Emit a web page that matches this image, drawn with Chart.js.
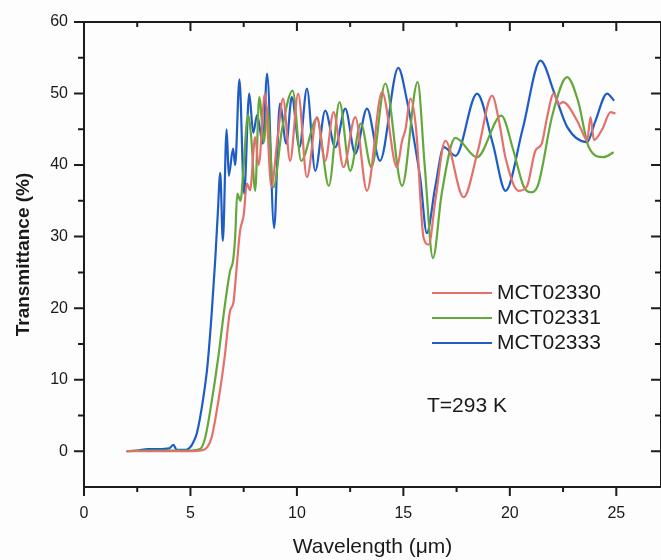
<!DOCTYPE html>
<html>
<head>
<meta charset="utf-8">
<script src="https://cdn.jsdelivr.net/npm/chart.js@4/dist/chart.umd.min.js"></script>
<style>
  html, body { margin: 0; padding: 0; background: #fdfdfd; }
  #wrap { width: 661px; height: 560px; }
</style>
</head>
<body>
<div id="wrap"><canvas id="transChart" width="661" height="560"></canvas></div>
<script>
  // axis ticks
  const xTicks = [0, 5, 10, 15, 20, 25];
  const yTicks = [0, 10, 20, 30, 40, 50, 60];

  // MCT02330 (red)
  const mct02330X = [2, 3, 4, 5, 5.5, 5.8, 6.0, 6.31, 6.6, 6.86, 7.02, 7.15, 7.33, 7.5, 7.65, 7.8, 8.04, 8.2, 8.5, 8.8, 9.1, 9.35, 9.68, 10.06, 10.47, 10.94, 11.33, 11.72, 12.19, 12.74, 13.29, 14.0, 14.7, 14.94, 15.1, 15.33, 15.6, 15.95, 16.19, 16.5, 16.97, 17.83, 18.5, 19.17, 19.5, 19.8, 20.42, 20.8, 21.2, 21.5, 21.75, 22.06, 22.3, 22.5, 23.16, 23.5, 23.63, 23.79, 23.95, 24.34, 24.73, 24.96];
  const mct02330Y = [0, 0, 0, 0, 0.1, 0.6, 2, 7, 13, 19.6, 20.8, 25, 30.8, 33, 37.4, 36.5, 43.9, 40, 50, 37, 44, 49.3, 40.6, 50, 38.3, 46.7, 40.6, 47.4, 39.7, 46.7, 36.4, 50.2, 39.7, 43.4, 45, 49.3, 45, 29.8, 28.9, 35, 43.4, 35.5, 42, 49.7, 46, 41, 36.4, 37, 42, 43, 46.7, 50, 48.5, 48.8, 46.2, 44, 43.4, 46.7, 43.5, 45, 47.4, 47.2];

  // MCT02331 (green)
  const mct02331X = [2, 3, 4, 5, 5.45, 5.7, 6.0, 6.3, 6.58, 6.86, 7.0, 7.1, 7.2, 7.35, 7.5, 7.7, 7.85, 8.04, 8.23, 8.46, 8.6, 8.9, 9.3, 9.8, 10.2, 10.94, 11.5, 12.0, 12.5, 13.0, 13.5, 14.15, 14.94, 15.67, 16.0, 16.39, 16.8, 17.44, 18.46, 19.6, 20.17, 20.65, 20.97, 21.3, 22.0, 22.69, 23.2, 23.71, 24.4, 24.88];
  const mct02331Y = [0, 0.1, 0.1, 0.1, 0.3, 2, 7, 13, 19.6, 25.2, 26.6, 30, 36, 35, 40, 47, 44, 36.4, 49.5, 43.2, 48, 36.9, 45, 50.4, 40.6, 46.5, 37.1, 48.8, 39.2, 45.8, 39.7, 51.4, 37.1, 51.6, 40, 27, 36, 43.8, 41.1, 46.9, 42, 37, 36.2, 37, 47, 52.3, 49, 42.5, 41.1, 41.8];

  // MCT02333 (blue)
  const mct02333X = [2, 2.5, 3, 3.5, 4, 4.2, 4.35, 4.8, 5.0, 5.14, 5.3, 5.6, 5.8, 6.0, 6.16, 6.28, 6.4, 6.52, 6.7, 6.8, 7.0, 7.1, 7.3, 7.52, 7.76, 7.95, 8.13, 8.4, 8.6, 8.93, 9.2, 9.5, 9.76, 10.12, 10.47, 10.86, 11.33, 11.8, 12.27, 12.74, 13.29, 13.9, 14.76, 15.17, 15.56, 15.8, 16.1, 16.5, 16.9, 17.45, 18.46, 19.2, 19.8, 20.6, 21.44, 22.1, 22.7, 23.63, 24.0, 24.57, 24.9];
  const mct02333Y = [0, 0.1, 0.3, 0.3, 0.4, 0.9, 0.2, 0.2, 0.6, 1.3, 2.5, 7.4, 12, 19.4, 26.6, 33, 38.9, 29.4, 45, 38.5, 42.3, 40, 52, 36, 50, 44.5, 47, 43, 52.8, 31.2, 48.6, 43, 49.5, 42.5, 50.7, 39.2, 47.6, 42.5, 47.9, 41.6, 47.9, 40.6, 53.6, 49, 42.5, 38, 30.5, 37, 42.5, 41.3, 50, 43, 36.4, 45, 54.6, 50, 45.3, 43.2, 46, 50, 49];

  function toPoints(xs, ys) {
    return xs.map((x, i) => ({ x: x, y: ys[i] }));
  }

  const fontFam = '"Liberation Sans", Arial, sans-serif';

  // frame, ticks on all four sides, legend and note
  const framePlugin = {
    id: 'frame',
    afterDraw(chart) {
      const ctx = chart.ctx;
      const a = chart.chartArea;
      const sx = chart.scales.x;
      const sy = chart.scales.y;
      ctx.save();
      ctx.strokeStyle = '#1c1c1c';
      ctx.lineWidth = 2;
      ctx.beginPath();
      ctx.moveTo(a.left, a.top); ctx.lineTo(a.right, a.top);
      ctx.moveTo(a.right, a.top); ctx.lineTo(a.right, a.bottom);
      ctx.moveTo(a.left, a.top); ctx.lineTo(a.left, a.bottom);
      ctx.moveTo(a.left, a.bottom); ctx.lineTo(a.right, a.bottom);
      ctx.stroke();

      ctx.beginPath();
      for (let v = 0; v <= sx.max; v += 2.5) {
        const px = sx.getPixelForValue(v);
        const len = v % 5 === 0 ? 9 : 5;
        ctx.moveTo(px, a.bottom); ctx.lineTo(px, a.bottom + len);
        ctx.moveTo(px, a.top); ctx.lineTo(px, a.top + len);
      }
      for (let v = 0; v <= sy.max; v += 5) {
        const py = sy.getPixelForValue(v);
        const len = v % 10 === 0 ? 10 : 6;
        ctx.moveTo(a.left - len, py); ctx.lineTo(a.left, py);
        ctx.moveTo(a.right - len, py); ctx.lineTo(a.right, py);
      }
      ctx.stroke();

      // legend
      ctx.font = '21px ' + fontFam;
      ctx.textBaseline = 'middle';
      ctx.fillStyle = '#1a1a1a';
      chart.data.datasets.forEach((ds, i) => {
        const y = 293 + i * 25;
        ctx.strokeStyle = ds.borderColor;
        ctx.lineWidth = 2;
        ctx.beginPath();
        ctx.moveTo(432, y); ctx.lineTo(492, y);
        ctx.stroke();
        ctx.fillText(ds.label, 497, y);
      });
      ctx.fillText('T=293 K', 427, 406);
      ctx.restore();
    }
  };

  const ctxTrans = document.getElementById('transChart').getContext('2d');
  const transChart = new Chart(ctxTrans, {
    type: 'line',
    data: {
      datasets: [{
        label: 'MCT02330',
        data: toPoints(mct02330X, mct02330Y),
        borderColor: 'rgb(228, 112, 108)',
        borderWidth: 2.2,
        pointRadius: 0,
        cubicInterpolationMode: 'monotone'
      }, {
        label: 'MCT02331',
        data: toPoints(mct02331X, mct02331Y),
        borderColor: 'rgb(98, 168, 58)',
        borderWidth: 2.2,
        pointRadius: 0,
        cubicInterpolationMode: 'monotone'
      }, {
        label: 'MCT02333',
        data: toPoints(mct02333X, mct02333Y),
        borderColor: 'rgb(30, 92, 198)',
        borderWidth: 2.2,
        pointRadius: 0,
        cubicInterpolationMode: 'monotone'
      }]
    },
    options: {
      responsive: false,
      animation: false,
      devicePixelRatio: 1,
      layout: { padding: { top: 22, right: 0, left: 0, bottom: 0 } },
      plugins: {
        legend: { display: false },
        tooltip: { enabled: false }
      },
      scales: {
        x: {
          type: 'linear',
          min: 0,
          max: 27.1,
          afterBuildTicks: s => { s.ticks = xTicks.map(v => ({ value: v })); },
          afterFit: s => { s.height = 73; },
          grid: { display: false },
          border: { display: false },
          ticks: {
            padding: 9,
            color: '#1a1a1a',
            font: { family: fontFam, size: 16 }
          },
          title: {
            display: true,
            text: 'Wavelength (μm)',
            color: '#1a1a1a',
            padding: 0,
            font: { family: fontFam, size: 21 }
          }
        },
        y: {
          min: -5,
          max: 60,
          afterBuildTicks: s => { s.ticks = yTicks.map(v => ({ value: v })); },
          afterFit: s => { s.width = 84; },
          grid: { display: false },
          border: { display: false },
          ticks: {
            padding: 8,
            color: '#1a1a1a',
            font: { family: fontFam, size: 16 }
          },
          title: {
            display: true,
            text: 'Transmittance (%)',
            color: '#1a1a1a',
            padding: 12,
            font: { family: fontFam, size: 19, weight: 'bold' }
          }
        }
      }
    },
    plugins: [framePlugin]
  });
</script>
</body>
</html>
